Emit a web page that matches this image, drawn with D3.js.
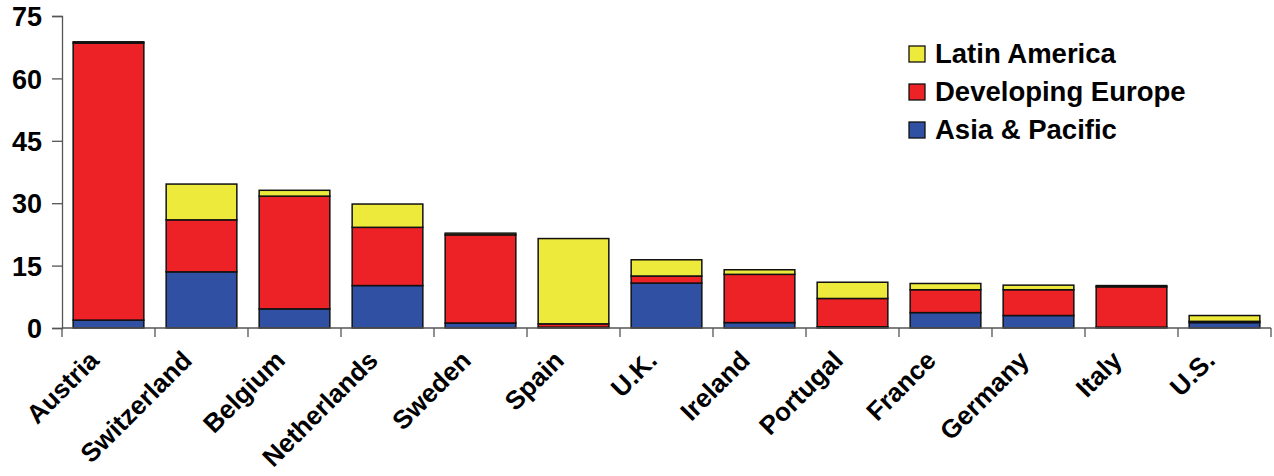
<!DOCTYPE html>
<html>
<head>
<meta charset="utf-8">
<script src="https://cdn.jsdelivr.net/npm/d3@7"></script>
<style>
  body { margin: 0; background: #fff; }
  svg text { font-family: "Liberation Sans", Arial, sans-serif; font-weight: bold; fill: #000; }
</style>
</head>
<body>
<svg id="chart"></svg>
<script>
var countries = ["Austria", "Switzerland", "Belgium", "Netherlands", "Sweden", "Spain", "U.K.",
  "Ireland", "Portugal", "France", "Germany", "Italy", "U.S."];
var asiaPacific = [1.9, 13.5, 4.6, 10.2, 1.2, 0.2, 10.8, 1.3, 0.3, 3.7, 3.0, 0.2, 1.3];
var developingEurope = [66.6, 12.5, 27.1, 14.0, 21.2, 0.8, 1.7, 11.6, 6.8, 5.5, 6.2, 9.7, 0.3];
var latinAmerica = [0.3, 8.6, 1.4, 5.6, 0.4, 20.5, 3.9, 1.1, 3.9, 1.5, 1.1, 0.3, 1.4];
var yTicks = [0, 15, 30, 45, 60, 75];

var seriesKeys = ["asia", "europe", "latin"];
var seriesNames = { latin: "Latin America", europe: "Developing Europe", asia: "Asia & Pacific" };
var colors = { latin: "#eeea3c", europe: "#ec2226", asia: "#3051a3" };

var svgWidth = 1274, svgHeight = 476;
var plotLeft = 62, plotRight = 1271, plotTop = 16, plotBottom = 328;

var rows = countries.map(function (c, i) {
  return { country: c, asia: asiaPacific[i], europe: developingEurope[i], latin: latinAmerica[i] };
});

var svg = d3.select("#chart").attr("width", svgWidth).attr("height", svgHeight);

var x = d3.scaleBand().domain(countries).range([plotLeft, plotRight]).paddingInner(0.24).paddingOuter(0.12);
var y = d3.scaleLinear().domain([0, 75]).range([plotBottom, plotTop]);

var stacked = d3.stack().keys(seriesKeys)(rows);

svg.append("g")
  .selectAll("g")
  .data(stacked)
  .enter()
  .append("g")
  .attr("fill", function (d) { return colors[d.key]; })
  .selectAll("rect")
  .data(function (d) { return d; })
  .enter()
  .append("rect")
  .attr("x", function (d) { return x(d.data.country); })
  .attr("y", function (d) { return y(d[1]); })
  .attr("width", x.bandwidth())
  .attr("height", function (d) { return y(d[0]) - y(d[1]); })
  .attr("stroke", "#111")
  .attr("stroke-width", 1.5);

// y axis
var yAxis = svg.append("g")
  .attr("transform", "translate(" + plotLeft + ",0)")
  .call(d3.axisLeft(y).tickValues(yTicks).tickSize(10).tickPadding(10));
yAxis.selectAll("text").style("font-size", "27px").attr("dy", "0.36em");
yAxis.selectAll("line, path").attr("stroke", "#555").attr("stroke-width", 1.3);

// x axis: ticks sit on the band boundaries
var boundaries = d3.range(countries.length + 1).map(function (i) {
  return plotLeft + i * (plotRight - plotLeft) / countries.length;
});
var xAxis = svg.append("g");
xAxis.append("line")
  .attr("x1", plotLeft).attr("x2", plotRight)
  .attr("y1", plotBottom).attr("y2", plotBottom)
  .attr("stroke", "#555").attr("stroke-width", 1.3);
xAxis.selectAll(".tick")
  .data(boundaries)
  .enter()
  .append("line")
  .attr("x1", function (d) { return d; }).attr("x2", function (d) { return d; })
  .attr("y1", plotBottom).attr("y2", plotBottom + 9)
  .attr("stroke", "#555").attr("stroke-width", 1.3);
xAxis.selectAll(".lbl")
  .data(countries)
  .enter()
  .append("text")
  .attr("text-anchor", "end")
  .style("font-size", "26px")
  .attr("transform", function (d) {
    return "translate(" + (x(d) + x.bandwidth() / 2 - 8) + "," + (plotBottom + 34) + ") rotate(-45)";
  })
  .text(function (d) { return d; });

// legend
var legendOrder = ["latin", "europe", "asia"];
var legend = svg.append("g").attr("transform", "translate(909,46)");
legendOrder.forEach(function (k, i) {
  var g = legend.append("g").attr("transform", "translate(0," + (i * 38) + ")");
  g.append("rect").attr("width", 16).attr("height", 16)
    .attr("fill", colors[k]).attr("stroke", "#111").attr("stroke-width", 1.3);
  g.append("text").attr("x", 26).attr("y", 17).style("font-size", "27.5px").text(seriesNames[k]);
});
</script>
</body>
</html>
